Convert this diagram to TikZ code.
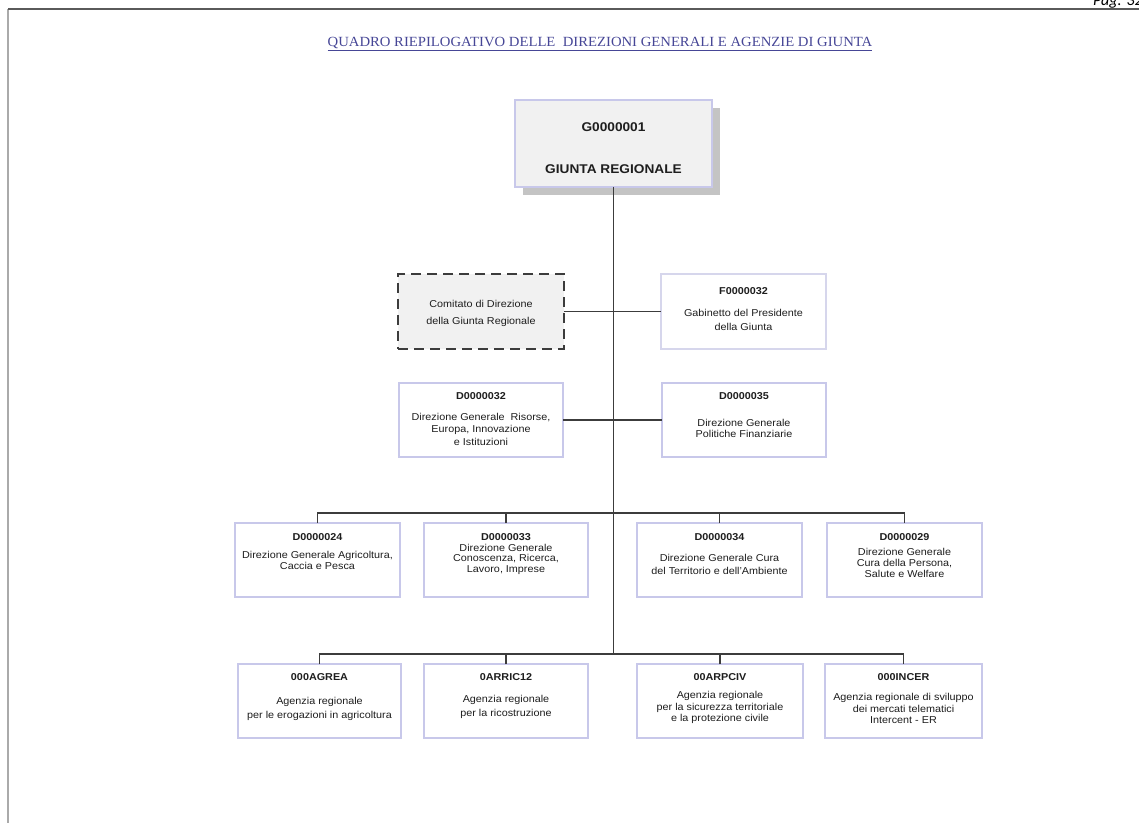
\documentclass[tikz,border=0pt]{standalone}
\usepackage{fontspec}
\setmainfont{Liberation Sans}[FakeStretch=1.08]
\newfontfamily\titlefont{Liberation Serif}[FakeStretch=1.05]
\newfontfamily\pagfont{Carlito}
\usetikzlibrary{shadows}
\definecolor{boxc}{RGB}{200,200,234}
\definecolor{boxl}{RGB}{214,214,236}
\definecolor{fillg}{RGB}{241,241,241}
\definecolor{shadowc}{RGB}{196,196,196}
\definecolor{linec}{RGB}{60,60,60}
\definecolor{dashc}{RGB}{60,60,60}
\definecolor{txt}{RGB}{30,30,30}
\definecolor{titlec}{RGB}{70,70,150}
\definecolor{framec}{RGB}{90,90,90}
\definecolor{framel}{RGB}{170,170,170}
\newcommand\bt[4]{\parbox[c][#2][t]{#1}{\centering\vspace*{#3}#4\par}}
\begin{document}
\begin{tikzpicture}[x=0.75pt,y=-0.75pt,
  box/.style={draw=boxc, line width=1.5pt, fill=white, inner sep=0pt, outer sep=0pt,
              font=\fontsize{7.5}{8.6}\selectfont, text=txt},
  thinbox/.style={box, draw=boxl, line width=1pt},
  dashbox/.style={box, draw=dashc, dash pattern=on 7.5pt off 4.5pt, line width=1.1pt, fill=fillg},
  topbox/.style={box, fill=fillg, line width=1.8pt, font=\fontsize{9.5}{11.5}\selectfont\bfseries,
                 drop shadow={shadow xshift=6pt, shadow yshift=-6pt, fill=shadowc, opacity=1}},
  conn/.style={draw=linec, line width=0.8pt}]
\useasboundingbox (0,0) rectangle (1139,823);
% page frame
\draw[framel, line width=1.2pt] (8,9) -- (8,823);
\draw[framec, line width=1.3pt] (8,9) -- (1139,9);
\node[anchor=base east, inner sep=0pt, font=\pagfont\itshape\fontsize{12}{14}\selectfont] (pag) at (1143,6) {Pag. 32};
% title
\node[inner sep=0pt, text=titlec, font=\titlefont\fontsize{10.5}{12}\selectfont] (title) at (600,44)
  {\underline{QUADRO RIEPILOGATIVO DELLE\ \ DIREZIONI GENERALI E AGENZIE DI GIUNTA}};
% top
\node[topbox] (g) at (613.5,143.5) {\bt{147.75pt}{65.25pt}{17.2pt}{G0000001\\[19.5pt]GIUNTA REGIONALE}};
% second level
\node[dashbox] (com) at (481,311.5) {\bt{124.5pt}{56.25pt}{19.6pt}{Comitato di Direzione\\[4.2pt]della Giunta Regionale}};
\node[thinbox] (f32) at (743.5,311.5) {\bt{123.75pt}{56.25pt}{9.9pt}{\textbf{F0000032}\\[7.9pt]Gabinetto del Presidente\\[1.9pt]della Giunta}};
\node[box] (d32) at (481,420) {\bt{123pt}{55.5pt}{6.9pt}{\textbf{D0000032}\\[7.2pt]Direzione Generale\ \ Risorse,\\[0.8pt]Europa, Innovazione\\[0.8pt]e Istituzioni}};
\node[box] (d35) at (744,420) {\bt{123pt}{55.5pt}{6.9pt}{\textbf{D0000035}\\[11.6pt]Direzione Generale\\Politiche Finanziarie}};
% third level
\node[box] (d24) at (317.5,560) {\bt{123.75pt}{55.5pt}{8.1pt}{\textbf{D0000024}\\[4.9pt]Direzione Generale Agricoltura,\\[-0.5pt]Caccia e Pesca}};
\node[box] (d33) at (506,560) {\bt{123pt}{55.5pt}{8.1pt}{\textbf{D0000033}\\[-0.9pt]Direzione Generale\\[-0.6pt]Conoscenza, Ricerca,\\[-0.6pt]Lavoro, Imprese}};
\node[box] (d34) at (719.5,560) {\bt{123.75pt}{55.5pt}{8.1pt}{\textbf{D0000034}\\[7.2pt]Direzione Generale Cura\\[1.2pt]del Territorio e dell'Ambiente}};
\node[box] (d29) at (904.5,560) {\bt{116.25pt}{55.5pt}{8.1pt}{\textbf{D0000029}\\[2.6pt]Direzione Generale\\[-0.5pt]Cura della Persona,\\[-0.5pt]Salute e Welfare}};
% fourth level
\node[box] (agrea) at (319.5,701) {\bt{122.25pt}{55.5pt}{6.9pt}{\textbf{000AGREA}\\[9.4pt]Agenzia regionale\\[1.9pt]per le erogazioni in agricoltura}};
\node[box] (arric) at (506,701) {\bt{123pt}{55.5pt}{6.9pt}{\textbf{0ARRIC12}\\[7.9pt]Agenzia regionale\\[1.9pt]per la ricostruzione}};
\node[box] (arpciv) at (720,701) {\bt{124.5pt}{55.5pt}{6.9pt}{\textbf{00ARPCIV}\\[4.9pt]Agenzia regionale\\[0.3pt]per la sicurezza territoriale\\[0.3pt]e la protezione civile}};
\node[box] (incer) at (903.5,701) {\bt{117.75pt}{55.5pt}{6.9pt}{\textbf{000INCER}\\[6.4pt]Agenzia regionale di sviluppo\\[0.3pt]dei mercati telematici\\[0.3pt]Intercent - ER}};
% connectors
\coordinate (r3) at (613.5,513);
\coordinate (r4) at (613.5,654);
\draw[conn] (g.south) -- (r4);
\draw[conn] (com.east) -- (f32.west);
\draw[conn] (d32.east) -- (d35.west);
\draw[conn] (d24.north) |- (r3) -| (d29.north);
\draw[conn] (d33.north) -- (d33.north |- r3);
\draw[conn] (d34.north) -- (d34.north |- r3);
\draw[conn] (agrea.north) |- (r4) -| (incer.north);
\draw[conn] (arric.north) -- (arric.north |- r4);
\draw[conn] (arpciv.north) -- (arpciv.north |- r4);
\end{tikzpicture}
\end{document}
